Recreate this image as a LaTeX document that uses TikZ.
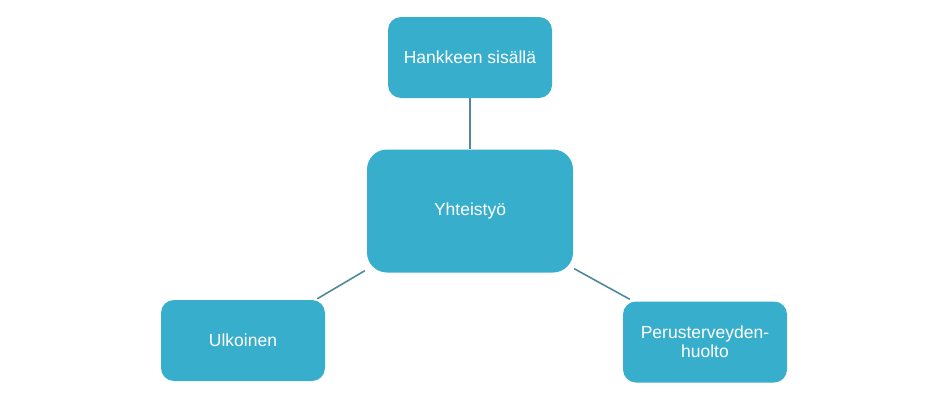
\documentclass[tikz,border=0pt]{standalone}
\usepackage{fontspec}
\setmainfont{Liberation Sans}
\usetikzlibrary{positioning}
\definecolor{DEFINE_BOX_COLOR}{HTML}{38AECD}
\definecolor{DEFINE_LINE_COLOR}{HTML}{4F8A9C}
\tikzstyle{BOX_COLOR}=[fill=DEFINE_BOX_COLOR]
\tikzstyle{box} = [rectangle, BOX_COLOR, text=white, align=center, font=\fontsize{17.5}{19}\selectfont]
\tikzstyle{small_box} = [box, minimum width=164pt, minimum height=81pt, rounded corners=13pt]
\tikzstyle{main_box}  = [box, minimum width=206pt, minimum height=123pt, rounded corners=20pt]
\tikzstyle{link} = [draw=DEFINE_LINE_COLOR, line width=1.6pt]

\begin{document}
\begin{tikzpicture}[x=1pt, y=-1pt]
      \useasboundingbox (0,0) rectangle (940,402);

      %%%%%%%%%%%%%%%%%%%%%%%%%%%%%%%%%%%%%%%%%%%%%%%%%
      % BOXES
      %%%%%%%%%%%%%%%%%%%%%%%%%%%%%%%%%%%%%%%%%%%%%%%%%
      \node[main_box]  (YT)  at (470,211)   {Yhteistyö};
      \node[small_box] (HS)  at (470,57.5)  {Hankkeen sisällä};
      \node[small_box] (UK)  at (243,340.5) {Ulkoinen};
      \node[small_box] (PTH) at (705,342)   {Perusterveyden-\\huolto};

      %%%%%%%%%%%%%%%%%%%%%%%%%%%%%%%%%%%%%%%%%%%%%%%%%
      % LINKS
      %%%%%%%%%%%%%%%%%%%%%%%%%%%%%%%%%%%%%%%%%%%%%%%%%
      \path[link] (HS.south) -- (YT.north);
      \path[link] ([xshift=-2pt,yshift=2pt]YT.south west) -- ([xshift=-8pt,yshift=1pt]UK.north east);
      \path[link] ([xshift=1pt,yshift=4pt]YT.south east) -- ([xshift=7pt,yshift=2pt]PTH.north west);

\end{tikzpicture}
\end{document}
